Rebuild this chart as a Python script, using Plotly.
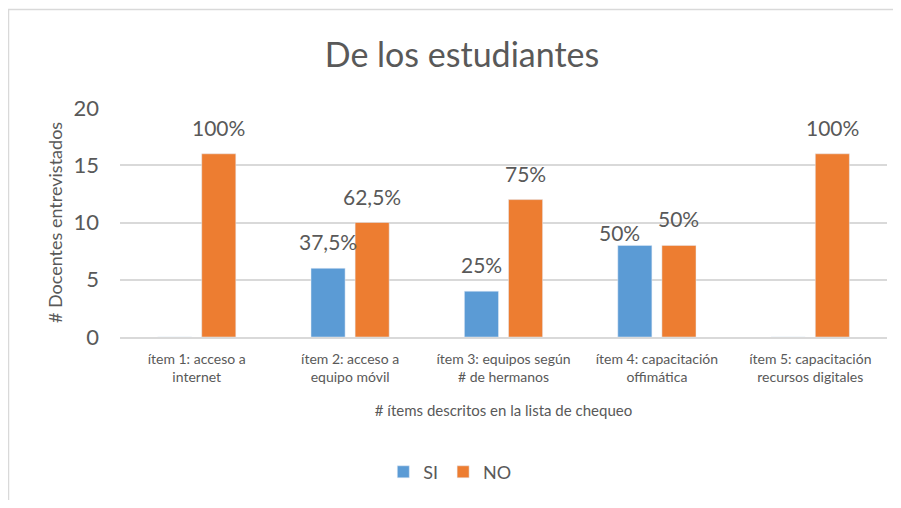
import plotly.graph_objects as go

categories = [
    "ítem 1: acceso a<br>internet",
    "ítem 2: acceso a<br>equipo móvil",
    "ítem 3: equipos según<br># de hermanos",
    "ítem 4: capacitación<br>offimática",
    "ítem 5: capacitación<br>recursos digitales",
]
si_values = [0, 6, 4, 8, 0]
no_values = [16, 10, 12, 8, 16]
si_labels = ["", "37,5%", "25%", "50%", ""]
no_labels = ["100%", "62,5%", "75%", "50%", "100%"]
y_ticks = [0, 5, 10, 15, 20]

BLUE = "#5B9BD5"
ORANGE = "#ED7D31"
TEXT = "#595959"
GRID = "#D9D9D9"
FONT = "Lato"

W, H = 885, 492
L, R, T, B = 112, 6, 100, 163
PH = H - T - B
PW = W - L - R

fig = go.Figure()
fig.add_trace(go.Bar(name="SI", x=categories, y=si_values, marker_color=BLUE))
fig.add_trace(go.Bar(name="NO", x=categories, y=no_values, marker_color=ORANGE))

# label nudges (style only): series index, category index -> (dx, dy)
nudges = {(0, 3): (-15, -14)}

annotations = []
for s, (vals, labs, dx0) in enumerate([(si_values, si_labels, -22), (no_values, no_labels, 22)]):
    for i, (v, t) in enumerate(zip(vals, labs)):
        if not t:
            continue
        ndx, ndy = nudges.get((s, i), (0, 0))
        annotations.append(dict(
            x=categories[i], y=v, xref="x", yref="y", text=t, showarrow=False,
            xshift=dx0 + ndx, yshift=12 + ndy, yanchor="bottom",
            font=dict(family=FONT, size=21, color=TEXT),
        ))

fig.update_layout(
    width=W, height=H,
    margin=dict(l=L, r=R, t=T, b=B, autoexpand=False),
    paper_bgcolor="white", plot_bgcolor="white",
    barmode="group", bargap=0.425, bargroupgap=0.227,
    title=dict(text="De los estudiantes", x=454 / W, xref="container", y=1 - 47 / H,
               yref="container", xanchor="center", yanchor="middle",
               font=dict(family=FONT, size=34, color=TEXT)),
    font=dict(family=FONT, color=TEXT),
    showlegend=True,
    legend=dict(orientation="h", x=0.43, xanchor="center", y=-0.59, yanchor="middle",
                font=dict(family=FONT, size=18, color=TEXT), itemwidth=30,
                traceorder="normal"),
    annotations=annotations,
    shapes=[dict(type="rect", xref="paper", yref="paper", x0=(0.5 - L) / PW, x1=1.3,
                 y0=-1.2, y1=(H - B - 1.5) / PH, line=dict(color=GRID, width=1.5),
                 layer="below")],
)
fig.update_xaxes(
    showline=True, linecolor=GRID, linewidth=1.5, ticks="", ticklabelstandoff=8,
    tickfont=dict(family=FONT, size=14, color=TEXT),
    title=dict(text="# ítems descritos en la lista de chequeo", standoff=22,
               font=dict(family=FONT, size=15, color=TEXT)),
)
fig.update_yaxes(
    range=[0, 20], tickvals=y_ticks, showgrid=True, gridcolor=GRID, gridwidth=1.5,
    zeroline=False, showline=False, ticks="", ticklabelstandoff=20,
    tickfont=dict(family=FONT, size=22, color=TEXT),
    title=dict(text="# Docentes entrevistados", standoff=6,
               font=dict(family=FONT, size=18, color=TEXT)),
)

fig.write_html("out.html")
